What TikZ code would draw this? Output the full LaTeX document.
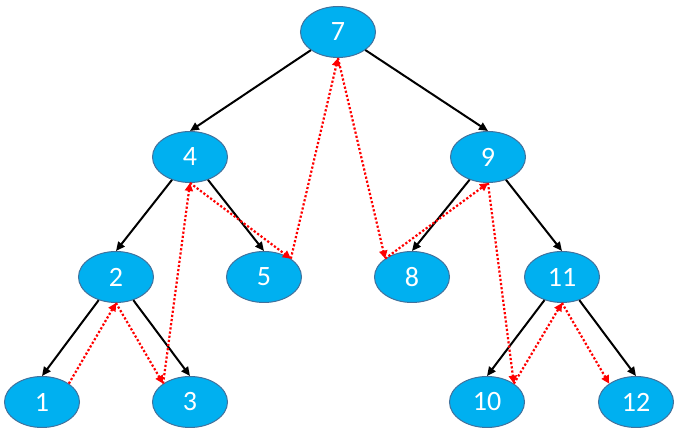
\documentclass[tikz,border=0pt]{standalone}
\usepackage{fontspec}
\setmainfont{Carlito}
\usepackage{xcolor}
\usetikzlibrary{shapes.geometric,arrows.meta}
\definecolor{keyfill}{RGB}{0,176,240}
\definecolor{keyline}{RGB}{65,113,156}

\begin{document}
\begin{tikzpicture}[x=1pt,y=-1pt,
  key/.style={ellipse,draw=keyline,line width=1pt,fill=keyfill,text=white,
    minimum width=75pt,minimum height=51pt,inner sep=0pt,font=\fontsize{28}{32}\selectfont},
  child/.style={-{Triangle[length=9pt,width=8pt]},line width=2pt},
  thread/.style={red,line width=2.2pt,dash pattern=on 2.2pt off 2pt,
    -{Triangle[length=8pt,width=8pt]}}]
  \useasboundingbox (0,0) rectangle (678,438);
  % Keys of the tree
  \foreach \k/\x/\y in {7/338/32,4/190/157,9/488/157,2/116/277,5/264/277,8/412/277,
      11/562/277,1/42/402,3/190/402,10/487/402,12/636/402}
    \node[key] (n\k) at (\x,\y) {\k};
  % Parent to child edges
  \foreach \p/\c in {7/4,7/9,4/2,4/5,9/8,9/11,2/1,2/3,11/10,11/12}
    \draw[child] (n\p) -- (n\c.north);
  % Threads, in order
  \draw[thread] (n1.north east) -- (n2.south);
  \draw[thread] (n2.south) -- (n3.north west);
  \draw[thread] (n3.north west) -- (n4.south);
  \draw[thread] (n4.south) -- (n5.north east);
  \draw[thread] (n5.north east) -- (n7.south);
  \draw[thread] (n7.south) -- (n8.north west);
  \draw[thread] (n8.north west) -- (n9.south);
  \draw[thread] (n9.south) -- (n10.north east);
  \draw[thread] (n10.north east) -- (n11.south);
  \draw[thread] (n11.south) -- (n12.north west);
\end{tikzpicture}
\end{document}
